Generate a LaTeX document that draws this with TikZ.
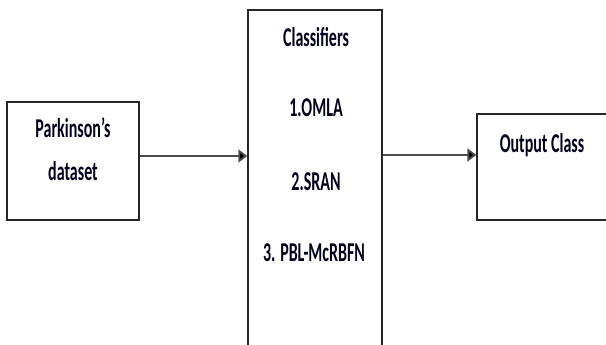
\documentclass[tikz,border=0pt]{standalone}
\usepackage{fontspec}
\setmainfont{Carlito}
\usetikzlibrary{arrows.meta}
\newcommand{\tallt}[1]{\scalebox{1}[1.7]{#1}}
\tikzset{
  boxnode/.style={draw=black!85, line width=1.3pt, fill=white, inner sep=0pt, minimum width=#1},
  lbl/.style={font=\bfseries\fontsize{16}{18}\selectfont, text=black!88!blue, inner sep=0pt, anchor=base},
  arr/.style={draw=black!70, line width=1.8pt, -{Triangle[length=9pt,width=13pt,fill=black]}}
}
\begin{document}
\begin{tikzpicture}[x=1pt,y=-1pt]
\useasboundingbox (0,0) rectangle (606,345);
\clip (0,0) rectangle (606,345);
\fill[white] (0,0) rectangle (606,345);
\node[boxnode=132pt, minimum height=118pt] (lb) at (73,161) {};
\node[boxnode=134pt, minimum height=350pt] (clf) at (315,185) {};
\node[boxnode=140pt, minimum height=106pt] (ob) at (547,167) {};
\node[lbl] (t1) at (73,138) {\tallt{Parkinson’s}};
\node[lbl] (t2) at (73,180) {\tallt{dataset}};
\node[lbl] (c0) at (316,47) {\tallt{Classifiers}};
\node[lbl] (c1) at (316,117) {\tallt{1.OMLA}};
\node[lbl] (c2) at (316,190) {\tallt{2.SRAN}};
\node[lbl] (c3) at (314,261) {\tallt{3. PBL-McRBFN}};
\node[lbl] (o1) at (542,153) {\tallt{Output Class}};
\coordinate (a1) at (0,156);
\coordinate (a2) at (0,155);
\draw[arr] (lb.east |- a1) -- (clf.west |- a1);
\draw[arr] (clf.east |- a2) -- (ob.west |- a2);
\end{tikzpicture}
\end{document}
